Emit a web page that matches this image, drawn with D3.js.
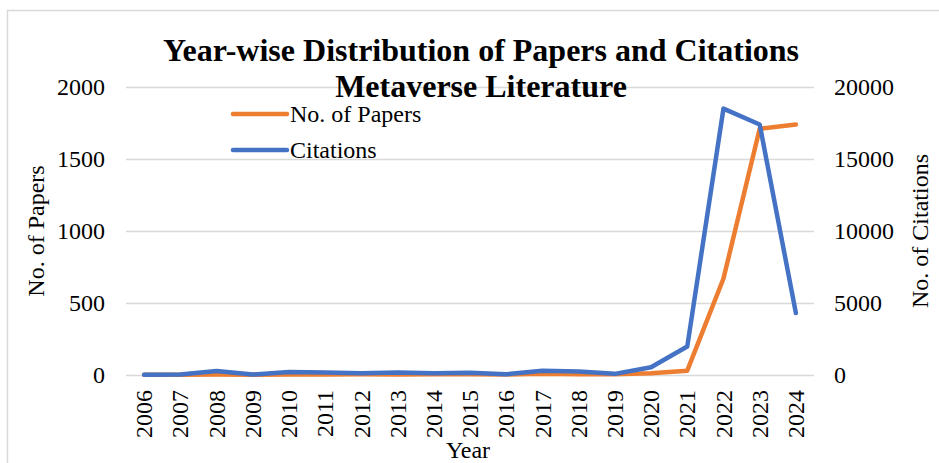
<!DOCTYPE html>
<html>
<head>
<meta charset="utf-8">
<script src="https://cdn.jsdelivr.net/npm/d3@7"></script>
<style>
  html, body { margin: 0; padding: 0; background: #fff; }
  svg { display: block; }
  svg text { font-family: "Liberation Serif", "Times New Roman", serif; fill: #000; }
</style>
</head>
<body>
<svg id="chart" width="939" height="463"></svg>
<script>
// Publication years
const years = ["2006","2007","2008","2009","2010","2011","2012","2013","2014","2015",
               "2016","2017","2018","2019","2020","2021","2022","2023","2024"];
// Papers per year (left axis)
const papers = [1, 2, 3, 2, 4, 3, 5, 4, 5, 6, 4, 8, 6, 5, 12, 30, 670, 1710, 1740];
// Citations per year (right axis)
const citations = [10, 30, 270, 30, 210, 180, 130, 170, 130, 160, 50, 290, 250, 80, 540, 1980, 18500, 17400, 4300];
// Tick labels
const paperTicks = [0, 500, 1000, 1500, 2000];
const citationTicks = [0, 5000, 10000, 15000, 20000];

const titleLines = ["Year-wise Distribution of Papers and Citations", "Metaverse Literature"];
const seriesNames = ["No. of Papers", "Citations"];
const colors = { papers: "#ED7D31", citations: "#4472C4" };
const FONT = "Liberation Serif, Times New Roman, serif";

const svg = d3.select("#chart");

// Outer chart frame
svg.append("rect")
  .attr("x", 7.5).attr("y", 10.5)
  .attr("width", 960).attr("height", 480)
  .attr("fill", "none").attr("stroke", "#d9d9d9").attr("stroke-width", 1.5);

const plot = { left: 126, right: 814, top: 87, bottom: 375 };

const x = d3.scaleBand().domain(years).range([plot.left, plot.right]);
const xc = d => x(d) + x.bandwidth() / 2;
const yL = d3.scaleLinear().domain([0, 2000]).range([plot.bottom, plot.top]);
const yR = d3.scaleLinear().domain([0, 20000]).range([plot.bottom, plot.top]);

// Gridlines
svg.append("g")
  .attr("transform", `translate(${plot.left},0)`)
  .call(d3.axisLeft(yL).tickValues(paperTicks).tickSize(-(plot.right - plot.left)).tickFormat(""))
  .call(g => g.select(".domain").remove())
  .call(g => g.selectAll("line").attr("stroke", "#d9d9d9").attr("stroke-width", 1.5));

// Left axis labels
svg.append("g")
  .attr("transform", `translate(${plot.left},0)`)
  .call(d3.axisLeft(yL).tickValues(paperTicks).tickSize(0).tickPadding(21).tickFormat(d3.format("d")))
  .call(g => g.attr("font-family", FONT).attr("font-size", 24))
  .call(g => g.select(".domain").remove())
  .call(g => g.selectAll("text").attr("font-family", FONT).attr("font-size", 24).attr("fill", "#000"));

// Right axis labels
svg.append("g")
  .attr("transform", `translate(${plot.right},0)`)
  .call(d3.axisRight(yR).tickValues(citationTicks).tickSize(0).tickPadding(20).tickFormat(d3.format("d")))
  .call(g => g.attr("font-family", FONT).attr("font-size", 24))
  .call(g => g.select(".domain").remove())
  .call(g => g.selectAll("text").attr("font-family", FONT).attr("font-size", 24).attr("fill", "#000"));

// Year labels, rotated
svg.append("g")
  .attr("transform", `translate(0,${plot.bottom})`)
  .call(d3.axisBottom(x).tickSize(0).tickPadding(0))
  .call(g => g.attr("font-family", FONT).attr("font-size", 24))
  .call(g => g.select(".domain").remove())
  .call(g => g.selectAll("text")
    .attr("font-family", FONT).attr("font-size", 24).attr("fill", "#000")
    .attr("transform", "rotate(-90)")
    .attr("text-anchor", "end")
    .attr("dy", "0.34em")
    .attr("x", -15).attr("y", 0));

// Series lines
const linePapers = d3.line().x((d, i) => xc(years[i])).y(d => yL(d));
const lineCites = d3.line().x((d, i) => xc(years[i])).y(d => yR(d));

svg.append("path")
  .datum(papers)
  .attr("d", linePapers)
  .attr("fill", "none").attr("stroke", colors.papers).attr("stroke-width", 4.5)
  .attr("stroke-linecap", "round").attr("stroke-linejoin", "round");

svg.append("path")
  .datum(citations)
  .attr("d", lineCites)
  .attr("fill", "none").attr("stroke", colors.citations).attr("stroke-width", 4.5)
  .attr("stroke-linecap", "round").attr("stroke-linejoin", "round");

// Title
svg.append("text")
  .attr("x", 481).attr("y", 61)
  .attr("text-anchor", "middle")
  .attr("font-family", FONT).attr("font-size", 32).attr("font-weight", "bold")
  .text(titleLines[0]);
svg.append("text")
  .attr("x", 481).attr("y", 97)
  .attr("text-anchor", "middle")
  .attr("font-family", FONT).attr("font-size", 32).attr("font-weight", "bold")
  .text(titleLines[1]);

// Legend
const legend = svg.append("g");
[[seriesNames[0], colors.papers, 114], [seriesNames[1], colors.citations, 150]].forEach(([name, c, yy]) => {
  legend.append("line")
    .attr("x1", 233).attr("x2", 287).attr("y1", yy).attr("y2", yy)
    .attr("stroke", c).attr("stroke-width", 4.5).attr("stroke-linecap", "round");
  legend.append("text")
    .attr("x", 290).attr("y", yy + 8)
    .attr("font-family", FONT).attr("font-size", 24)
    .text(name);
});

// Axis titles
svg.append("text")
  .attr("transform", `translate(44,${(plot.top + plot.bottom) / 2}) rotate(-90)`)
  .attr("text-anchor", "middle")
  .attr("font-family", FONT).attr("font-size", 24)
  .text("No. of Papers");
svg.append("text")
  .attr("transform", `translate(928,${(plot.top + plot.bottom) / 2}) rotate(-90)`)
  .attr("text-anchor", "middle")
  .attr("font-family", FONT).attr("font-size", 24)
  .text("No. of Citations");
svg.append("text")
  .attr("x", 468).attr("y", 458)
  .attr("text-anchor", "middle")
  .attr("font-family", FONT).attr("font-size", 24)
  .text("Year");
</script>
</body>
</html>
